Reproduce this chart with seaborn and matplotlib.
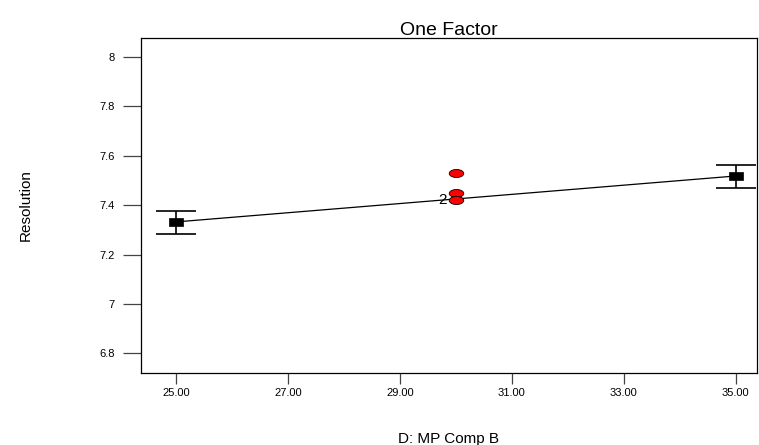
import numpy as np
import pandas as pd
import matplotlib
matplotlib.use("Agg")
import matplotlib.pyplot as plt
from matplotlib.path import Path
import seaborn as sns

# ---- data ----
factor_levels = [25.0, 35.0]
predicted = [7.332, 7.518]
ci_low = [7.283, 7.470]
ci_high = [7.377, 7.563]
design_x = [30.0, 30.0, 30.0]
design_y = [7.530, 7.449, 7.421]
design_count_label = "2"
x_ticks = [25, 27, 29, 31, 33, 35]
y_ticks = [6.8, 7.0, 7.2, 7.4, 7.6, 7.8, 8.0]
y_tick_labels = ["6.8", "7", "7.2", "7.4", "7.6", "7.8", "8"]

sns.set_theme(style="white")
plt.rcParams["font.family"] = ["Liberation Sans", "DejaVu Sans"]
plt.rcParams["text.color"] = "black"
plt.rcParams["axes.labelcolor"] = "black"
plt.rcParams["xtick.color"] = "black"
plt.rcParams["ytick.color"] = "black"

fig = plt.figure(figsize=(7.59, 4.45), dpi=100)
ax = fig.add_axes([0.1858, 0.1618, 0.811, 0.7528])

df_line = pd.DataFrame({"x": factor_levels, "y": predicted})
sns.lineplot(data=df_line, x="x", y="y", color="black", linewidth=0.9, ax=ax)

err = [np.array(predicted) - np.array(ci_low), np.array(ci_high) - np.array(predicted)]
eb = ax.errorbar(factor_levels, predicted, yerr=err, fmt="none", ecolor="black",
                 elinewidth=1.2, capsize=14.5, capthick=1.2, zorder=3)
for cap in eb[1]:
    cap.set_color("#777777")

rect = Path([(-1.0, -0.5), (1.0, -0.5), (1.0, 0.5), (-1.0, 0.5), (-1.0, -0.5)],
            [Path.MOVETO, Path.LINETO, Path.LINETO, Path.LINETO, Path.CLOSEPOLY])
sns.scatterplot(data=df_line, x="x", y="y", marker=rect, s=110, color="black",
                edgecolor="black", linewidth=0.5, ax=ax, zorder=4)

t = np.linspace(0, 2 * np.pi, 40)
ell = Path(np.column_stack([np.cos(t), 0.55 * np.sin(t)]))
df_pts = pd.DataFrame({"x": design_x, "y": design_y})
sns.scatterplot(data=df_pts, x="x", y="y", marker=ell, s=110, color="#ff0000",
                edgecolor="black", linewidth=0.6, ax=ax, zorder=5)
ax.text(design_x[-1] - 0.17, design_y[-1], design_count_label, fontsize=11,
        ha="right", va="center", color="black")

ax.set_xlim(24.375, 35.375)
ax.set_ylim(6.72, 8.077)
ax.set_xticks(x_ticks)
ax.set_xticklabels([f"{v:.2f}" for v in x_ticks])
ax.set_yticks(y_ticks)
ax.set_yticklabels(y_tick_labels)
ax.tick_params(axis="y", direction="out", length=13, width=0.9, color="#444444",
               labelsize=8, pad=6, left=True, labelcolor="black")
ax.tick_params(axis="x", direction="out", length=8, width=0.9, color="#444444",
               labelsize=8, pad=3, bottom=True, labelcolor="black")
for s in ax.spines.values():
    s.set_color("black")
    s.set_linewidth(0.9)
ax.set_xlabel("D: MP Comp B", fontsize=11, labelpad=24, color="black")
ax.set_ylabel("Resolution", fontsize=11, labelpad=48, color="black")
ax.set_title("One Factor", fontsize=14, pad=2, color="black")

fig.savefig("out.png", dpi=100)
